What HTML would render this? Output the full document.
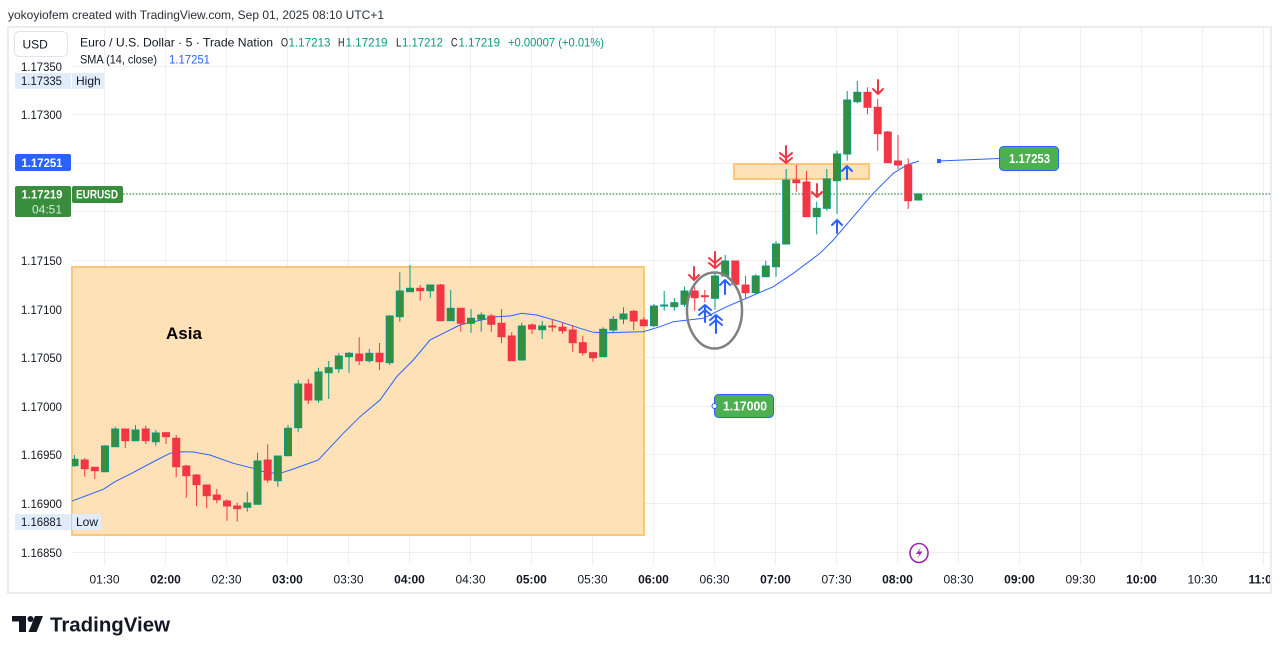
<!DOCTYPE html>
<html><head><meta charset="utf-8"><style>
html,body{margin:0;padding:0;background:#fff;width:1281px;height:654px;overflow:hidden}
svg{display:block}
text{font-family:"Liberation Sans",sans-serif}
.g line{stroke:#089981;stroke-width:1}
.g rect{fill:#388e3c;stroke:#089981;stroke-width:1}
.r line{stroke:#f23645;stroke-width:1}
.r rect{fill:#f23645;stroke:#f23645;stroke-width:1}
.pl{font-size:12px;fill:#131722;text-anchor:end}
.tl{font-size:12px;fill:#131722;text-anchor:middle}
.tb{font-size:12px;fill:#131722;text-anchor:middle;font-weight:bold}
.ar{fill:none;stroke-width:2;stroke-linecap:round;stroke-linejoin:round}
</style></head><body>
<svg width="1281" height="654" viewBox="0 0 1281 654" xmlns="http://www.w3.org/2000/svg">
<defs><clipPath id="pc"><rect x="72" y="28" width="1198" height="538"/></clipPath></defs>
<rect width="1281" height="654" fill="#fff"/>
<text x="8" y="19" font-size="12" fill="#2a2e39" textLength="376" lengthAdjust="spacingAndGlyphs">yokoyiofem created with TradingView.com, Sep 01, 2025 08:10 UTC+1</text>
<rect x="8" y="27" width="1263" height="566" fill="none" stroke="#ececec" stroke-width="2"/>

<!-- grid -->
<g stroke="#efefef" stroke-width="1">
<line x1="72" x2="1270" y1="66.5" y2="66.5"/><line x1="72" x2="1270" y1="114.5" y2="114.5"/><line x1="72" x2="1270" y1="163.5" y2="163.5"/><line x1="72" x2="1270" y1="211.5" y2="211.5"/><line x1="72" x2="1270" y1="260.5" y2="260.5"/><line x1="72" x2="1270" y1="309.5" y2="309.5"/><line x1="72" x2="1270" y1="357.5" y2="357.5"/><line x1="72" x2="1270" y1="406.5" y2="406.5"/><line x1="72" x2="1270" y1="454.5" y2="454.5"/><line x1="72" x2="1270" y1="503.5" y2="503.5"/><line x1="72" x2="1270" y1="552.5" y2="552.5"/>
<line y1="28" y2="565" x1="104.5" x2="104.5"/><line y1="28" y2="565" x1="165.5" x2="165.5"/><line y1="28" y2="565" x1="226.5" x2="226.5"/><line y1="28" y2="565" x1="287.5" x2="287.5"/><line y1="28" y2="565" x1="348.5" x2="348.5"/><line y1="28" y2="565" x1="409.5" x2="409.5"/><line y1="28" y2="565" x1="470.5" x2="470.5"/><line y1="28" y2="565" x1="531.5" x2="531.5"/><line y1="28" y2="565" x1="592.5" x2="592.5"/><line y1="28" y2="565" x1="653.5" x2="653.5"/><line y1="28" y2="565" x1="714.5" x2="714.5"/><line y1="28" y2="565" x1="775.5" x2="775.5"/><line y1="28" y2="565" x1="836.5" x2="836.5"/><line y1="28" y2="565" x1="897.5" x2="897.5"/><line y1="28" y2="565" x1="958.5" x2="958.5"/><line y1="28" y2="565" x1="1019.5" x2="1019.5"/><line y1="28" y2="565" x1="1080.5" x2="1080.5"/><line y1="28" y2="565" x1="1141.5" x2="1141.5"/><line y1="28" y2="565" x1="1202.5" x2="1202.5"/><line y1="28" y2="565" x1="1263.5" x2="1263.5"/>
</g>

<!-- zones -->
<rect x="72" y="267" width="572" height="268" fill="#fee1b6" stroke="#fdc67a" stroke-width="2"/>
<rect x="734" y="164" width="135" height="15" fill="#fee1b6" stroke="#fdc67a" stroke-width="2"/>
<text x="166" y="339" font-size="17" font-weight="bold" fill="#000">Asia</text>

<!-- dotted last price line -->
<line x1="123" x2="1271" y1="194" y2="194" stroke="#388e3c" stroke-width="1.3" stroke-dasharray="1.5 1.7"/>

<g clip-path="url(#pc)">
<!-- SMA -->
<polyline fill="none" stroke="#2962ff" stroke-width="1" points="72,501 103.3,489.3 115,481.7 131.7,473.3 156.7,460 170,453.3 180,451.7 193.3,452 210,455 233.3,463.3 253.3,468.3 266.7,472.7 280,473.3 293.3,469 318.3,460 343.3,433.3 360,416.7 380,400 396.7,376.7 413.3,360 430,340 443.3,333.3 460,325 473.3,321.7 496.7,316.7 510,316 521.7,313.3 536.7,315 560,321.7 580,328.3 593.3,332.3 606.7,332.7 643.3,331.7 660,326.7 673.3,321.7 703.3,318.3 726.7,306.7 740,301 773.3,286.7 793.3,273.3 820,253.3 833.3,240 853.3,216.7 873.3,193.3 893.3,173.3 906.7,165 919,161"/>

<!-- candles -->
<g class="g"><line x1="74.5" x2="74.5" y1="455" y2="466.7"/><rect x="71" y="459.3" width="7" height="6.4"/></g>
<g class="r"><line x1="84.7" x2="84.7" y1="458" y2="476.7"/><rect x="81.2" y="460" width="7" height="8.7"/></g>
<g class="r"><line x1="94.8" x2="94.8" y1="467" y2="479"/><rect x="91.3" y="467.3" width="7" height="3.4"/></g>
<g class="g"><line x1="105" x2="105" y1="445" y2="471.7"/><rect x="101.5" y="446" width="7" height="25.7"/></g>
<g class="g"><line x1="115.2" x2="115.2" y1="426.7" y2="446.7"/><rect x="111.7" y="429" width="7" height="17.7"/></g>
<g class="r"><line x1="125.3" x2="125.3" y1="429" y2="448"/><rect x="121.8" y="429" width="7" height="11.7"/></g>
<g class="g"><line x1="135.5" x2="135.5" y1="425" y2="440.7"/><rect x="132" y="430" width="7" height="10.7"/></g>
<g class="r"><line x1="145.7" x2="145.7" y1="425.7" y2="444"/><rect x="142.2" y="429" width="7" height="11.7"/></g>
<g class="g"><line x1="155.8" x2="155.8" y1="430" y2="445.7"/><rect x="152.3" y="433" width="7" height="8.7"/></g>
<g class="r"><line x1="166" x2="166" y1="431.7" y2="444"/><rect x="162.5" y="432.7" width="7" height="4"/></g>
<g class="r"><line x1="176.2" x2="176.2" y1="435" y2="477.3"/><rect x="172.7" y="438.3" width="7" height="28.4"/></g>
<g class="r"><line x1="186.3" x2="186.3" y1="465" y2="497.7"/><rect x="182.8" y="466" width="7" height="9.7"/></g>
<g class="r"><line x1="196.5" x2="196.5" y1="474" y2="506"/><rect x="193" y="475" width="7" height="9.7"/></g>
<g class="r"><line x1="206.7" x2="206.7" y1="485" y2="508.3"/><rect x="203.2" y="485" width="7" height="10.7"/></g>
<g class="r"><line x1="216.8" x2="216.8" y1="489" y2="503.3"/><rect x="213.3" y="495" width="7" height="4.7"/></g>
<g class="r"><line x1="227" x2="227" y1="499.3" y2="520.7"/><rect x="223.5" y="501" width="7" height="5"/></g>
<g class="r"><line x1="237.2" x2="237.2" y1="502.7" y2="521.7"/><rect x="233.7" y="506" width="7" height="2.7"/></g>
<g class="g"><line x1="247.3" x2="247.3" y1="491.7" y2="511.7"/><rect x="243.8" y="503" width="7" height="4.3"/></g>
<g class="g"><line x1="257.5" x2="257.5" y1="452.7" y2="504.3"/><rect x="254" y="461" width="7" height="43.3"/></g>
<g class="r"><line x1="267.7" x2="267.7" y1="444.3" y2="482.7"/><rect x="264.2" y="460" width="7" height="20"/></g>
<g class="g"><line x1="277.8" x2="277.8" y1="456" y2="486.7"/><rect x="274.3" y="456" width="7" height="24.7"/></g>
<g class="g"><line x1="288" x2="288" y1="425" y2="455.7"/><rect x="284.5" y="428.3" width="7" height="27.4"/></g>
<g class="g"><line x1="298.2" x2="298.2" y1="380" y2="431.7"/><rect x="294.7" y="384" width="7" height="43.7"/></g>
<g class="r"><line x1="308.3" x2="308.3" y1="379" y2="404"/><rect x="304.8" y="384" width="7" height="16"/></g>
<g class="g"><line x1="318.5" x2="318.5" y1="367.7" y2="402.7"/><rect x="315" y="372" width="7" height="28"/></g>
<g class="g"><line x1="328.7" x2="328.7" y1="361" y2="399"/><rect x="325.2" y="367.7" width="7" height="5"/></g>
<g class="g"><line x1="338.8" x2="338.8" y1="353" y2="372.7"/><rect x="335.3" y="356" width="7" height="12.7"/></g>
<g class="g"><line x1="349" x2="349" y1="352" y2="372.7"/><rect x="345.5" y="353.3" width="7" height="3.4"/></g>
<g class="r"><line x1="359.2" x2="359.2" y1="337.3" y2="365"/><rect x="355.7" y="354" width="7" height="6.7"/></g>
<g class="g"><line x1="369.3" x2="369.3" y1="349" y2="362.7"/><rect x="365.8" y="353.3" width="7" height="7.4"/></g>
<g class="r"><line x1="379.5" x2="379.5" y1="343" y2="370"/><rect x="376" y="353.3" width="7" height="8.4"/></g>
<g class="g"><line x1="389.7" x2="389.7" y1="315" y2="365"/><rect x="386.2" y="316" width="7" height="46.7"/></g>
<g class="g"><line x1="399.8" x2="399.8" y1="272.3" y2="321.7"/><rect x="396.3" y="291" width="7" height="25.7"/></g>
<g class="g"><line x1="410" x2="410" y1="265" y2="291.7"/><rect x="406.5" y="288.3" width="7" height="3.4"/></g>
<g class="r"><line x1="420.2" x2="420.2" y1="285" y2="300.7"/><rect x="416.7" y="288.3" width="7" height="2.4"/></g>
<g class="g"><line x1="430.3" x2="430.3" y1="285" y2="297.7"/><rect x="426.8" y="285" width="7" height="5.7"/></g>
<g class="r"><line x1="440.5" x2="440.5" y1="284" y2="320.7"/><rect x="437" y="285" width="7" height="35.7"/></g>
<g class="g"><line x1="450.7" x2="450.7" y1="290" y2="320.7"/><rect x="447.2" y="308.3" width="7" height="12.4"/></g>
<g class="r"><line x1="460.8" x2="460.8" y1="308" y2="331.7"/><rect x="457.3" y="308.3" width="7" height="15"/></g>
<g class="g"><line x1="471" x2="471" y1="309" y2="332.7"/><rect x="467.5" y="318.3" width="7" height="5"/></g>
<g class="g"><line x1="481.2" x2="481.2" y1="312.3" y2="331.7"/><rect x="477.7" y="315" width="7" height="4.3"/></g>
<g class="r"><line x1="491.3" x2="491.3" y1="314" y2="331.7"/><rect x="487.8" y="316" width="7" height="8.3"/></g>
<g class="r"><line x1="501.5" x2="501.5" y1="309" y2="343.3"/><rect x="498" y="323.3" width="7" height="13.4"/></g>
<g class="r"><line x1="511.7" x2="511.7" y1="332.3" y2="360.7"/><rect x="508.2" y="336" width="7" height="24.7"/></g>
<g class="g"><line x1="521.8" x2="521.8" y1="322.7" y2="360.7"/><rect x="518.3" y="326" width="7" height="34"/></g>
<g class="r"><line x1="532" x2="532" y1="323.3" y2="334"/><rect x="528.5" y="325" width="7" height="4"/></g>
<g class="g"><line x1="542.2" x2="542.2" y1="321" y2="339"/><rect x="538.7" y="326" width="7" height="3.7"/></g>
<g class="r"><line x1="552.3" x2="552.3" y1="320" y2="331.7"/><rect x="548.8" y="326" width="7" height="1"/></g>
<g class="r"><line x1="562.5" x2="562.5" y1="322.3" y2="334"/><rect x="559" y="327.3" width="7" height="3.4"/></g>
<g class="r"><line x1="572.7" x2="572.7" y1="325" y2="351.7"/><rect x="569.2" y="330" width="7" height="12.7"/></g>
<g class="r"><line x1="582.8" x2="582.8" y1="335.7" y2="355.7"/><rect x="579.3" y="342.7" width="7" height="10"/></g>
<g class="r"><line x1="593" x2="593" y1="352" y2="361.7"/><rect x="589.5" y="352.7" width="7" height="5"/></g>
<g class="g"><line x1="603.2" x2="603.2" y1="327.3" y2="356.7"/><rect x="599.7" y="329.3" width="7" height="27.4"/></g>
<g class="g"><line x1="613.3" x2="613.3" y1="316" y2="333.3"/><rect x="609.8" y="319.3" width="7" height="10.7"/></g>
<g class="g"><line x1="623.5" x2="623.5" y1="307.3" y2="324.3"/><rect x="620" y="314" width="7" height="5"/></g>
<g class="r"><line x1="633.7" x2="633.7" y1="310" y2="330"/><rect x="630.2" y="311.3" width="7" height="9.7"/></g>
<g class="r"><line x1="643.8" x2="643.8" y1="317.3" y2="326"/><rect x="640.3" y="320" width="7" height="5.7"/></g>
<g class="g"><line x1="654" x2="654" y1="304" y2="327"/><rect x="650.5" y="306" width="7" height="19.7"/></g>
<g class="g"><line x1="664.2" x2="664.2" y1="291" y2="310.7"/><rect x="660.7" y="305" width="7" height="1"/></g>
<g class="g"><line x1="674.3" x2="674.3" y1="298" y2="310.7"/><rect x="670.8" y="302.7" width="7" height="4"/></g>
<g class="g"><line x1="684.5" x2="684.5" y1="286.7" y2="306.7"/><rect x="681" y="291" width="7" height="13.3"/></g>
<g class="r"><line x1="694.7" x2="694.7" y1="286.7" y2="310.7"/><rect x="691.2" y="291" width="7" height="6.7"/></g>
<g class="r"><line x1="704.8" x2="704.8" y1="290" y2="302.3"/><rect x="701.3" y="295.7" width="7" height="1"/></g>
<g class="g"><line x1="715" x2="715" y1="273.3" y2="309.3"/><rect x="711.5" y="276" width="7" height="22.3"/></g>
<g class="g"><line x1="725.2" x2="725.2" y1="255" y2="276.7"/><rect x="721.7" y="261" width="7" height="15"/></g>
<g class="r"><line x1="735.3" x2="735.3" y1="261" y2="285"/><rect x="731.8" y="261" width="7" height="23.3"/></g>
<g class="r"><line x1="745.5" x2="745.5" y1="276" y2="299"/><rect x="742" y="285" width="7" height="7.7"/></g>
<g class="g"><line x1="755.7" x2="755.7" y1="274.3" y2="294.3"/><rect x="752.2" y="276" width="7" height="16.7"/></g>
<g class="g"><line x1="765.8" x2="765.8" y1="260.7" y2="277.3"/><rect x="762.3" y="266" width="7" height="10.7"/></g>
<g class="g"><line x1="776" x2="776" y1="241" y2="276.7"/><rect x="772.5" y="244" width="7" height="22.7"/></g>
<g class="g"><line x1="786.2" x2="786.2" y1="169" y2="244"/><rect x="782.7" y="180" width="7" height="64"/></g>
<g class="r"><line x1="796.3" x2="796.3" y1="165" y2="191.7"/><rect x="792.8" y="180" width="7" height="2.7"/></g>
<g class="r"><line x1="806.5" x2="806.5" y1="171" y2="216.7"/><rect x="803" y="182" width="7" height="34.7"/></g>
<g class="g"><line x1="816.7" x2="816.7" y1="201.7" y2="234.3"/><rect x="813.2" y="208.3" width="7" height="8.4"/></g>
<g class="g"><line x1="826.8" x2="826.8" y1="169" y2="210.7"/><rect x="823.3" y="179" width="7" height="29.3"/></g>
<g class="g"><line x1="837" x2="837" y1="150.7" y2="214"/><rect x="833.5" y="154" width="7" height="26.7"/></g>
<g class="g"><line x1="847.2" x2="847.2" y1="91" y2="160.7"/><rect x="843.7" y="100" width="7" height="54"/></g>
<g class="g"><line x1="857.3" x2="857.3" y1="81" y2="103.3"/><rect x="853.8" y="92.3" width="7" height="9.4"/></g>
<g class="r"><line x1="867.5" x2="867.5" y1="87.3" y2="114.3"/><rect x="864" y="92.3" width="7" height="15"/></g>
<g class="r"><line x1="877.7" x2="877.7" y1="99" y2="150.7"/><rect x="874.2" y="107.3" width="7" height="26.4"/></g>
<g class="r"><line x1="887.8" x2="887.8" y1="131" y2="162.7"/><rect x="884.3" y="132" width="7" height="30.7"/></g>
<g class="r"><line x1="898" x2="898" y1="135" y2="169"/><rect x="894.5" y="161" width="7" height="4"/></g>
<g class="r"><line x1="908.2" x2="908.2" y1="158.3" y2="209"/><rect x="904.7" y="165" width="7" height="35.7"/></g>
<g class="g"><line x1="918.3" x2="918.3" y1="193" y2="200"/><rect x="914.8" y="194" width="7" height="6"/></g>
</g>

<!-- ellipse -->
<ellipse cx="714.5" cy="310.5" rx="27.5" ry="38" fill="none" stroke="#808080" stroke-width="2.5"/>

<!-- red down arrows -->
<g class="ar" stroke="#f23645">
<path d="M694 267V280M689 275L694 280L699 275"/>
<path d="M715 252V268M709 258L715 263L721 258M709 263L715 268L721 263"/>
<path d="M786 146V163M780 153L786 158L792 153M780 158L786 163L792 158"/>
<path d="M817 184V197M812 192L817 197L822 192"/>
<path d="M878 80V94M873 89L878 94L883 89"/>
</g>
<!-- blue up arrows -->
<g class="ar" stroke="#2962ff">
<path d="M705 305V322M699 310L705 305L711 310M699 315L705 310L711 315"/>
<path d="M716 315V333M710 320L716 315L722 320M710 325L716 320L722 325"/>
<path d="M725 280V294M720 285L725 280L730 285"/>
<path d="M837 220V233M832 225L837 220L842 225"/>
<path d="M847 166V179M842 171L847 166L852 171"/>
</g>

<!-- trend line + label -->
<line x1="939" y1="161" x2="999" y2="158.5" stroke="#2962ff" stroke-width="1"/>
<rect x="937" y="159" width="4" height="4" fill="#2962ff"/>
<rect x="999.5" y="146.5" width="59" height="24" rx="4" fill="#4caf50" stroke="#2962ff" stroke-width="1"/>
<text x="1009" y="163" font-size="12.5" font-weight="bold" fill="#fff" textLength="41" lengthAdjust="spacingAndGlyphs">1.17253</text>

<rect x="714.5" y="394.5" width="59" height="23" rx="4" fill="#4caf50" stroke="#2962ff" stroke-width="1"/>
<circle cx="714.5" cy="406" r="2.5" fill="#fff" stroke="#2962ff" stroke-width="1"/>
<text x="723" y="410.5" font-size="12.5" font-weight="bold" fill="#fff" textLength="44" lengthAdjust="spacingAndGlyphs">1.17000</text>

<!-- lightning -->
<ellipse cx="919" cy="553" rx="9" ry="9.5" fill="#fff" stroke="#9c27b0" stroke-width="1.6"/>
<path d="M921 547L916 554H919.5L917 559L922.5 551.5H919Z" fill="#9c27b0"/>

<!-- left axis labels -->
<rect x="15" y="73" width="56" height="16" fill="#e1ecfb"/>
<rect x="72" y="73" width="32" height="16" fill="#e1ecfb"/>
<rect x="15" y="514" width="56" height="16" fill="#e1ecfb"/>
<rect x="72" y="514" width="29" height="16" fill="#e1ecfb"/>
<g class="pl">
<text x="62" y="71" textLength="41" lengthAdjust="spacingAndGlyphs">1.17350</text>
<text x="62" y="85" textLength="41" lengthAdjust="spacingAndGlyphs">1.17335</text>
<text x="62" y="119" textLength="41" lengthAdjust="spacingAndGlyphs">1.17300</text>
<text x="62" y="265" textLength="41" lengthAdjust="spacingAndGlyphs">1.17150</text>
<text x="62" y="314" textLength="41" lengthAdjust="spacingAndGlyphs">1.17100</text>
<text x="62" y="362" textLength="41" lengthAdjust="spacingAndGlyphs">1.17050</text>
<text x="62" y="411" textLength="41" lengthAdjust="spacingAndGlyphs">1.17000</text>
<text x="62" y="459" textLength="41" lengthAdjust="spacingAndGlyphs">1.16950</text>
<text x="62" y="508" textLength="41" lengthAdjust="spacingAndGlyphs">1.16900</text>
<text x="62" y="526" textLength="41" lengthAdjust="spacingAndGlyphs">1.16881</text>
<text x="62" y="557" textLength="41" lengthAdjust="spacingAndGlyphs">1.16850</text>
</g>
<text x="76" y="85" font-size="12" fill="#131722">High</text>
<text x="76" y="526" font-size="12" fill="#131722">Low</text>

<rect x="15" y="154" width="56" height="17" rx="2" fill="#2962ff"/>
<text x="21.5" y="167" font-size="12" font-weight="bold" fill="#fff" textLength="41" lengthAdjust="spacingAndGlyphs">1.17251</text>
<rect x="15" y="186" width="56" height="31" rx="2" fill="#388e3c"/>
<text x="21.5" y="198.5" font-size="12" font-weight="bold" fill="#fff" textLength="41" lengthAdjust="spacingAndGlyphs">1.17219</text>
<text x="62" y="213.5" font-size="12" fill="#d5ead6" text-anchor="end">04:51</text>
<rect x="72" y="186" width="51" height="17" rx="2" fill="#388e3c"/>
<text x="76" y="198.5" font-size="12" font-weight="bold" fill="#fff" textLength="42" lengthAdjust="spacingAndGlyphs">EURUSD</text>

<!-- USD button & legend -->
<rect x="14.5" y="31.5" width="53" height="25" rx="5" fill="#fff" stroke="#e0e3eb" stroke-width="1"/>
<text x="22.5" y="48.5" font-size="12" fill="#131722">USD</text>
<g font-size="12">
<text x="80" y="46.5" fill="#131722" textLength="193" lengthAdjust="spacingAndGlyphs">Euro / U.S. Dollar · 5 · Trade Nation</text>
<text x="281" y="46.5" fill="#131722" textLength="7" lengthAdjust="spacingAndGlyphs">O</text><text x="288.5" y="46.5" fill="#089981" textLength="42" lengthAdjust="spacingAndGlyphs">1.17213</text>
<text x="338" y="46.5" fill="#131722" textLength="6.5" lengthAdjust="spacingAndGlyphs">H</text><text x="345.5" y="46.5" fill="#089981" textLength="42" lengthAdjust="spacingAndGlyphs">1.17219</text>
<text x="396" y="46.5" fill="#131722" textLength="5.5" lengthAdjust="spacingAndGlyphs">L</text><text x="402" y="46.5" fill="#089981" textLength="41" lengthAdjust="spacingAndGlyphs">1.17212</text>
<text x="451" y="46.5" fill="#131722" textLength="6.5" lengthAdjust="spacingAndGlyphs">C</text><text x="458.5" y="46.5" fill="#089981" textLength="41.5" lengthAdjust="spacingAndGlyphs">1.17219</text>
<text x="508" y="46.5" fill="#089981" textLength="96" lengthAdjust="spacingAndGlyphs">+0.00007 (+0.01%)</text>
<text x="80" y="63.5" fill="#131722" textLength="77" lengthAdjust="spacingAndGlyphs">SMA (14, close)</text>
<text x="169" y="63.5" fill="#2962ff" textLength="41" lengthAdjust="spacingAndGlyphs">1.17251</text>
</g>

<!-- time axis -->
<text class="tl" x="104.5" y="583.5">01:30</text>
<text class="tb" x="165.5" y="583.5">02:00</text>
<text class="tl" x="226.5" y="583.5">02:30</text>
<text class="tb" x="287.5" y="583.5">03:00</text>
<text class="tl" x="348.5" y="583.5">03:30</text>
<text class="tb" x="409.5" y="583.5">04:00</text>
<text class="tl" x="470.5" y="583.5">04:30</text>
<text class="tb" x="531.5" y="583.5">05:00</text>
<text class="tl" x="592.5" y="583.5">05:30</text>
<text class="tb" x="653.5" y="583.5">06:00</text>
<text class="tl" x="714.5" y="583.5">06:30</text>
<text class="tb" x="775.5" y="583.5">07:00</text>
<text class="tl" x="836.5" y="583.5">07:30</text>
<text class="tb" x="897.5" y="583.5">08:00</text>
<text class="tl" x="958.5" y="583.5">08:30</text>
<text class="tb" x="1019.5" y="583.5">09:00</text>
<text class="tl" x="1080.5" y="583.5">09:30</text>
<text class="tb" x="1141.5" y="583.5">10:00</text>
<text class="tl" x="1202.5" y="583.5">10:30</text>
<svg x="0" y="560" width="1270" height="40" overflow="hidden"><text class="tb" x="1263.5" y="23.5">11:00</text></svg>

<!-- TradingView logo -->
<g fill="#131722">
<path d="M12 616H26V632H19V621.5H12Z"/>
<circle cx="30.5" cy="619" r="3"/>
<path d="M35 616H43L36.5 632H28.5Z"/>
</g>
<text x="50" y="631.5" font-size="20.5" font-weight="bold" fill="#131722" textLength="120" lengthAdjust="spacingAndGlyphs">TradingView</text>
</svg>
</body></html>
